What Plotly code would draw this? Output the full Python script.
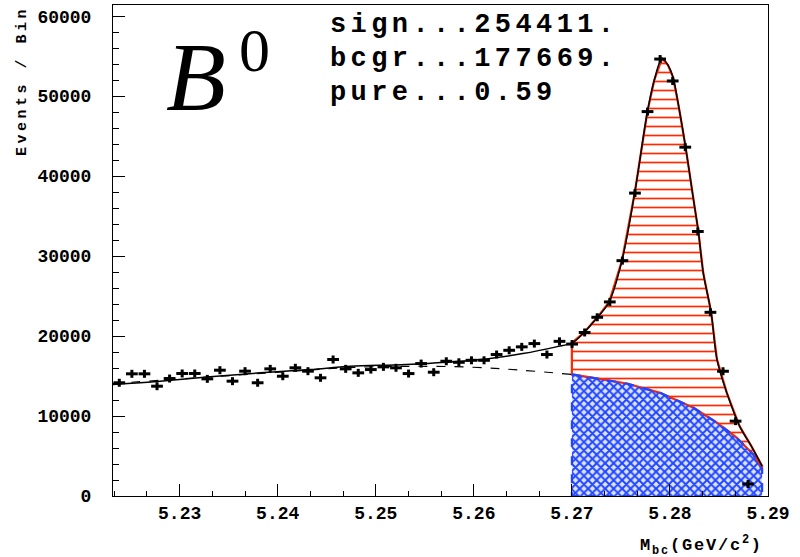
import numpy as np
import plotly.graph_objects as go

# ---------------- data ----------------
x_lo, x_hi = 5.2232, 5.2900
bin_width = 0.0012827
counts = [14160, 15280, 15280, 13730, 14690, 15320, 15320, 14650, 15730, 14360,
          15610, 14160, 15900, 14980, 16030, 15610, 14780, 17070, 15900, 15400,
          15810, 16150, 16030, 15310, 16560, 15480, 16850, 16720, 16970, 16970,
          17690, 18220, 18650, 19060, 17690, 19340, 19000,
          20450, 22350, 24270, 29430, 37880, 48070, 54640, 51900, 43620, 33080,
          22970, 15600, 9360, 1500]
bin_centers = x_lo + bin_width * (np.arange(len(counts)) + 0.5)

# total fit (signal + background)
fit_x = [5.2232, 5.2280, 5.2331, 5.2382, 5.2433, 5.2474, 5.2531, 5.2599, 5.2650,
         5.2684, 5.2700, 5.2712, 5.2726, 5.2738, 5.2751, 5.2764, 5.2777, 5.2784,
         5.2792, 5.2798, 5.2803, 5.2809, 5.2816, 5.2824, 5.2829, 5.2834, 5.2842,
         5.2848, 5.2858, 5.2871, 5.2883, 5.2894]
fit_total = [13940, 14350, 14900, 15400, 15810, 16220, 16440, 16970, 17810,
             18650, 19140, 20390, 22340, 24260, 29420, 37860, 48050, 52000,
             54710, 53880, 52420, 48670, 43610, 37030, 33070, 27880, 22960,
             17060, 12900, 8740, 6240, 3740]

# background (ARGUS-like) component
bkg_x = [5.2232, 5.2330, 5.2433, 5.2464, 5.2531, 5.2599, 5.2650, 5.2700,
         5.2722, 5.2756, 5.2790, 5.2824, 5.2848, 5.2868, 5.2885, 5.2894]
bkg_y = [14070, 14880, 15750, 16020, 16220, 16100, 15720, 15200,
         14780, 14070, 12900, 11030, 9160, 7290, 5200, 3330]

sig_cut = 5.2700
stats_lines = ["sign...254411.", "bcgr...177669.", "pure...0.59"]
y_max = 61400
y_ticks = [0, 10000, 20000, 30000, 40000, 50000, 60000]
x_ticks = [5.23, 5.24, 5.25, 5.26, 5.27, 5.28, 5.29]

# ---------------- style ----------------
RED = "#ff2a00"
BLUE = "#1f45ff"
MONO = "Liberation Mono"

fig = go.Figure()

# signal region (red hatched) : between total and background for x >= cut
tx = [x for x in fit_x if x >= sig_cut - 1e-9]
ty = [y for x, y in zip(fit_x, fit_total) if x >= sig_cut - 1e-9]
bx = [x for x in bkg_x if x >= sig_cut - 1e-9]
by = [y for x, y in zip(bkg_x, bkg_y) if x >= sig_cut - 1e-9]
red_x = tx + bx[::-1] + [tx[0]]
red_y = ty + by[::-1] + [ty[0]]
fig.add_trace(go.Scatter(
    x=red_x, y=red_y, mode="lines", fill="toself",
    line=dict(color=RED, width=2.2),
    fillpattern=dict(shape="-", fgcolor=RED, bgcolor="rgba(255,255,255,0)",
                     size=9, solidity=0.19, fgopacity=1),
    hoverinfo="skip", showlegend=False))

# background region under signal (blue cross-hatched)
blue_x = bx + [bx[-1], bx[0], bx[0]]
blue_y = by + [0, 0, by[0]]
fig.add_trace(go.Scatter(
    x=blue_x, y=blue_y, mode="lines", fill="toself",
    line=dict(color=BLUE, width=2.2, dash="dash"),
    fillpattern=dict(shape="x", fgcolor=BLUE, bgcolor="rgba(31,69,255,0.15)",
                     size=6, solidity=0.55, fgopacity=1),
    hoverinfo="skip", showlegend=False))

# dashed background line left of cut
lx = [x for x in bkg_x if x <= sig_cut + 1e-9]
ly = [y for x, y in zip(bkg_x, bkg_y) if x <= sig_cut + 1e-9]
fig.add_trace(go.Scatter(x=lx, y=ly, mode="lines", line_shape="spline",
                         line=dict(color="black", width=1.2, dash="dash"),
                         hoverinfo="skip", showlegend=False))

# total fit
fig.add_trace(go.Scatter(x=fit_x, y=fit_total, mode="lines", line_shape="spline",
                         line=dict(color="black", width=1.5),
                         hoverinfo="skip", showlegend=False))

# data points
fig.add_trace(go.Scatter(
    x=bin_centers, y=counts, mode="markers",
    marker=dict(size=1, color="black"),
    error_x=dict(type="constant", value=0.0006, thickness=3, width=0, color="black"),
    error_y=dict(type="constant", value=500, thickness=3, width=0, color="black"),
    hoverinfo="skip", showlegend=False))

# ---------------- layout ----------------
L, R, T, B = 113, 32, 5, 61
W, H = 800, 557
pw, ph = W - L - R, H - T - B


def px(xp):
    return (xp - L) / pw


def py(yp):
    return (H - B - yp) / ph


ann = []
ann.append(dict(text="<i>B</i>", x=px(196), y=py(77), xref="paper", yref="paper",
                showarrow=False, xanchor="center", yanchor="middle",
                font=dict(family="Liberation Serif", size=98, color="black")))
ann.append(dict(text="0", x=px(254), y=py(50), xref="paper", yref="paper",
                showarrow=False, xanchor="center", yanchor="middle",
                font=dict(family="Liberation Serif", size=62, color="black")))
for i, (line, yc) in enumerate(zip(stats_lines, [25, 59, 93])):
    ann.append(dict(text='<b><span style="letter-spacing:4.4px">' + line + '</span></b>',
                    x=px(328), y=py(yc), xref="paper", yref="paper",
                    showarrow=False, xanchor="left", yanchor="middle",
                    font=dict(family=MONO, size=27, color="black")))
ann.append(dict(text='<b><span style="letter-spacing:3.5px">Events / Bin</span></b>',
                x=px(22), y=py(81), xref="paper", yref="paper", textangle=-90,
                showarrow=False, xanchor="center", yanchor="middle",
                font=dict(family=MONO, size=15, color="black")))
ann.append(dict(text='<b><span style="letter-spacing:1.8px">M<sub>bc</sub>(GeV/c<sup>2</sup>)</span></b>',
                x=px(701), y=py(545), xref="paper", yref="paper",
                showarrow=False, xanchor="center", yanchor="middle",
                font=dict(family=MONO, size=17, color="black")))

axis_common = dict(showgrid=False, zeroline=False, showline=True, linecolor="black",
                   linewidth=1, mirror=True, ticks="inside", tickcolor="black",
                   ticklen=12, tickwidth=1)

fig.update_layout(
    width=W, height=H,
    margin=dict(l=L, r=R, t=T, b=B, pad=0),
    paper_bgcolor="white", plot_bgcolor="white",
    showlegend=False,
    annotations=ann,
    xaxis=dict(range=[x_lo, x_hi], tickvals=x_ticks,
               ticktext=["%.2f" % v for v in x_ticks],
               tickfont=dict(family=MONO, size=18, color="black", weight="bold"),
               minor=dict(dtick=0.01 / 3, tick0=5.23, ticks="inside", ticklen=5,
                          tickcolor="black", showgrid=False),
               **axis_common),
    yaxis=dict(range=[0, y_max], tickvals=y_ticks,
               ticktext=["%d" % v for v in y_ticks],
               tickfont=dict(family=MONO, size=18, color="black", weight="bold"),
               ticklabelstandoff=17,
               minor=dict(dtick=2000, ticks="inside", ticklen=6, tickcolor="black",
                          showgrid=False),
               **axis_common),
)

fig.write_html("out.html", config={"displayModeBar": False},
               post_script="document.body.style.margin='0px';document.body.style.padding='0px';")
